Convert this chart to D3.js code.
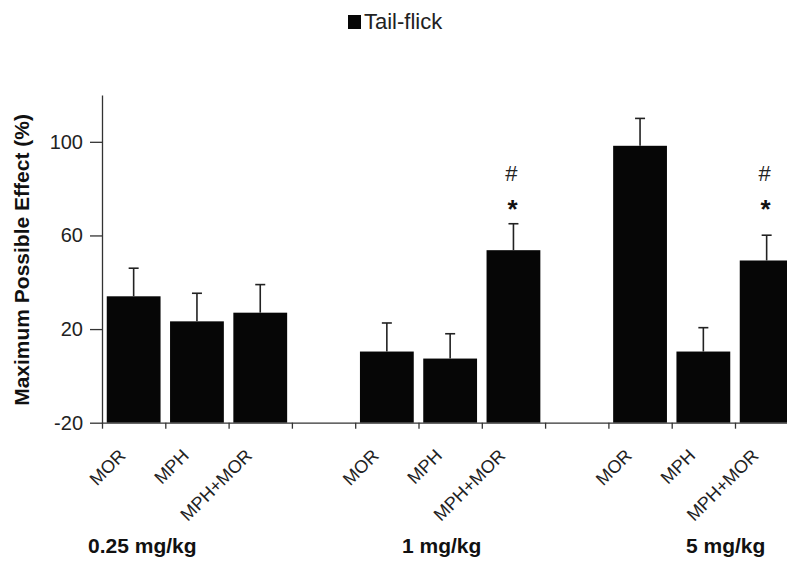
<!DOCTYPE html>
<html>
<head>
<meta charset="utf-8">
<script src="https://d3js.org/d3.v7.min.js"></script>
<style>
  * { margin: 0; padding: 0; }
  body { background: #fff; width: 787px; height: 562px; overflow: hidden; }
  svg { display: block; font-family: Arial, 'Liberation Sans', sans-serif; }
</style>
</head>
<body>
<div id="chart"></div>
<script>
  // dose groups and treatments
  const doses = ["0.25 mg/kg", "1 mg/kg", "5 mg/kg"];
  const treatments = ["MOR", "MPH", "MPH+MOR"];
  // % MPE per bar (dose-major order) and upper SEM
  const mpeValues = [34, 23.3, 27, 10.4, 7.4, 53.7, 98.3, 10.4, 49.3];
  const semValues = [12, 12, 12, 12.2, 10.6, 11.3, 11.7, 10.2, 10.8];
  // significance marks above bars
  const hashMarks = [false, false, false, false, false, true, false, false, true];
  const starMarks = [false, false, false, false, false, true, false, false, true];
  const yTicks = [-20, 20, 60, 100];
  const legendLabel = "Tail-flick";
  const yTitle = "Maximum Possible Effect (%)";

  const width = 787, height = 562;
  const margin = { left: 102, top: 96, bottom: 139 };
  const slotStep = 63.3;

  // one slot per bar, plus an empty slot between dose groups
  const slots = [];
  doses.forEach((d, g) => {
    treatments.forEach(t => slots.push(d + "|" + t));
    if (g < doses.length - 1) slots.push("gap" + g);
  });
  const bars = [];
  doses.forEach((d, g) => treatments.forEach((t, i) => {
    const k = g * treatments.length + i;
    bars.push({ dose: d, treat: t, key: d + "|" + t, v: mpeValues[k], e: semValues[k], hash: hashMarks[k], star: starMarks[k] });
  }));

  const svg = d3.select("#chart").append("svg")
    .attr("width", width).attr("height", height);

  const x = d3.scaleBand()
    .domain(slots)
    .range([margin.left, margin.left + slots.length * slotStep])
    .paddingInner(0.15).paddingOuter(0.075);
  const xEdge = d3.scaleLinear().domain([0, slots.length]).range(x.range());

  const y = d3.scaleLinear().domain([-20, 120]).range([height - margin.bottom - 0.3, margin.top - 1]);

  // bars
  svg.append("g").selectAll("rect")
    .data(bars).join("rect")
    .attr("x", d => x(d.key))
    .attr("width", x.bandwidth())
    .attr("y", d => y(d.v))
    .attr("height", d => y(-20) - y(d.v))
    .attr("fill", "#060606");

  // upper error bars
  const eb = svg.append("g").attr("stroke", "#222").attr("stroke-width", 1.6);
  eb.selectAll("line.v").data(bars).join("line").attr("class", "v")
    .attr("x1", d => x(d.key) + x.bandwidth() / 2).attr("x2", d => x(d.key) + x.bandwidth() / 2)
    .attr("y1", d => y(d.v)).attr("y2", d => y(d.v + d.e));
  eb.selectAll("line.c").data(bars).join("line").attr("class", "c")
    .attr("x1", d => x(d.key) + x.bandwidth() / 2 - 5).attr("x2", d => x(d.key) + x.bandwidth() / 2 + 5)
    .attr("y1", d => y(d.v + d.e)).attr("y2", d => y(d.v + d.e));

  // significance marks
  svg.append("g").selectAll("text")
    .data(bars.filter(d => d.hash)).join("text")
    .attr("x", d => x(d.key) + x.bandwidth() / 2 - 2)
    .attr("y", 181)
    .attr("text-anchor", "middle")
    .attr("font-size", 22).attr("fill", "#222")
    .text("#");
  svg.append("g").selectAll("text")
    .data(bars.filter(d => d.star)).join("text")
    .attr("x", d => x(d.key) + x.bandwidth() / 2 - 1)
    .attr("y", 218)
    .attr("text-anchor", "middle")
    .attr("font-size", 26).attr("font-weight", "bold").attr("fill", "#111")
    .text("*");

  // y axis
  const yAxis = svg.append("g")
    .attr("transform", `translate(${margin.left},0)`)
    .call(d3.axisLeft(y).tickValues(yTicks).tickFormat(d => String(d)).tickSize(12).tickPadding(7).tickSizeOuter(0));
  yAxis.select(".domain").attr("stroke", "#333").attr("stroke-width", 1.3);
  yAxis.selectAll(".tick line").attr("stroke", "#333").attr("stroke-width", 1.3);
  yAxis.selectAll(".tick text").attr("font-size", 20).attr("fill", "#222")
    .attr("font-family", "Arial, 'Liberation Sans', sans-serif");

  // x axis: ticks between categories
  const xAxis = svg.append("g")
    .attr("transform", `translate(0,${y(-20)})`)
    .call(d3.axisBottom(xEdge).tickValues(d3.range(slots.length + 1)).tickFormat("").tickSize(6).tickSizeOuter(0));
  xAxis.select(".domain").attr("stroke", "#333").attr("stroke-width", 1.3);
  xAxis.selectAll(".tick line").attr("stroke", "#333").attr("stroke-width", 1.3);

  // rotated treatment labels
  svg.append("g").selectAll("text")
    .data(bars).join("text")
    .attr("transform", d => `translate(${x(d.key) + x.bandwidth() / 2 - 7},${y(-20) + 34}) rotate(-45)`)
    .attr("text-anchor", "end")
    .attr("font-size", 18).attr("fill", "#222")
    .text(d => d.treat);

  // dose group labels
  const doseLabelX = [88, 402, 686];
  svg.append("g").selectAll("text")
    .data(doses).join("text")
    .attr("x", (d, i) => doseLabelX[i])
    .attr("y", 553)
    .attr("font-size", 21).attr("font-weight", "bold").attr("fill", "#111")
    .text(d => d);

  // y title
  svg.append("text")
    .attr("transform", `translate(29,260) rotate(-90)`)
    .attr("text-anchor", "middle")
    .attr("font-size", 21).attr("font-weight", "bold").attr("fill", "#111")
    .text(yTitle);

  // legend
  const lg = svg.append("g");
  lg.append("rect").attr("x", 348).attr("y", 15).attr("width", 13).attr("height", 14).attr("fill", "#060606");
  lg.append("text").attr("x", 364).attr("y", 29).attr("font-size", 22).attr("fill", "#222").text(legendLabel);
</script>
</body>
</html>
